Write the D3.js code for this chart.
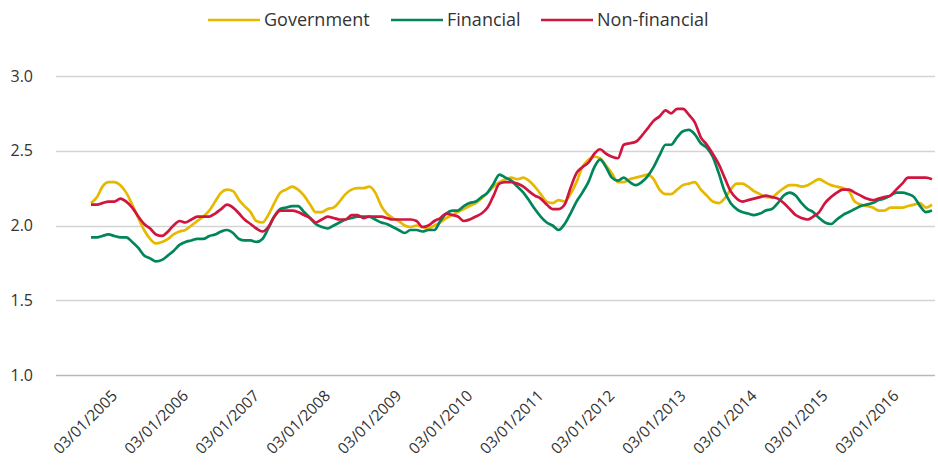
<!DOCTYPE html>
<html lang="en">
  <head>
    <meta charset="UTF-8" />
    <title>Spread chart</title>
    <script src="https://d3js.org/d3.v7.min.js"></script>
    <style>
      body {
        margin: 0;
        background: #fff;
        font-family: "Open Sans", sans-serif;
      }
    </style>
  </head>
  <body>
    <svg id="chart" width="938" height="465"></svg>
    <script>
      // monthly observations, Jan 2005 .. Nov 2016
      const months = d3.timeMonth.range(new Date(2005, 0, 1), new Date(2016, 11, 1));

      const government = [
        2.15, 2.19, 2.26, 2.29, 2.29, 2.27, 2.22, 2.14, 2.05, 1.97, 1.91, 1.88,
        1.89, 1.91, 1.94, 1.96, 1.97, 2.0, 2.03, 2.06, 2.1, 2.16, 2.22, 2.24,
        2.23, 2.17, 2.13, 2.09, 2.03, 2.02, 2.07, 2.15, 2.22, 2.24, 2.26, 2.24,
        2.2, 2.14, 2.09, 2.09, 2.11, 2.12, 2.16, 2.21, 2.24, 2.25, 2.25, 2.26,
        2.22, 2.13, 2.08, 2.05, 2.03, 2.0, 1.99, 2.0, 1.99, 1.98, 2.0, 2.02,
        2.05, 2.07, 2.09, 2.11, 2.13, 2.15, 2.18, 2.22, 2.26, 2.29, 2.31, 2.32,
        2.31, 2.32, 2.3, 2.26, 2.21, 2.16, 2.15, 2.17, 2.16, 2.21, 2.29, 2.39,
        2.44, 2.46, 2.45, 2.4, 2.35, 2.29, 2.29, 2.31, 2.32, 2.33, 2.34, 2.31,
        2.24, 2.21, 2.21, 2.24, 2.27, 2.28, 2.29, 2.24, 2.2, 2.16, 2.15, 2.18,
        2.24, 2.28, 2.28, 2.26, 2.23, 2.21, 2.19, 2.19, 2.22, 2.25, 2.27, 2.27,
        2.26, 2.27, 2.29, 2.31, 2.29, 2.27, 2.26, 2.25, 2.23, 2.16, 2.14, 2.13,
        2.12, 2.1, 2.1, 2.12, 2.12, 2.12, 2.13, 2.14, 2.15, 2.12, 2.14
      ];

      const financial = [
        1.92, 1.92, 1.93, 1.94, 1.93, 1.92, 1.92, 1.89, 1.85, 1.8, 1.78, 1.76,
        1.77, 1.8, 1.83, 1.87, 1.89, 1.9, 1.91, 1.91, 1.93, 1.94, 1.96, 1.97,
        1.95, 1.91, 1.9, 1.9, 1.89, 1.91, 1.98, 2.06, 2.11, 2.12, 2.13, 2.13,
        2.09, 2.05, 2.01, 1.99, 1.98, 2.0, 2.02, 2.04, 2.05, 2.06, 2.06, 2.06,
        2.04, 2.02, 2.01, 1.99, 1.97, 1.95, 1.97, 1.97, 1.96, 1.97, 1.97, 2.03,
        2.08, 2.1, 2.1, 2.13, 2.15, 2.16, 2.19, 2.22, 2.28, 2.34, 2.32, 2.3,
        2.26, 2.22, 2.17, 2.11, 2.06, 2.02, 2.0, 1.97, 2.01, 2.08, 2.16, 2.22,
        2.29, 2.39, 2.44, 2.39, 2.32, 2.3, 2.32, 2.29, 2.27, 2.29, 2.33, 2.39,
        2.47, 2.54, 2.54, 2.59, 2.63, 2.64, 2.61, 2.55, 2.52, 2.46, 2.35, 2.23,
        2.15, 2.11, 2.09, 2.08, 2.07, 2.08, 2.1, 2.11, 2.15, 2.2, 2.22, 2.2,
        2.15, 2.11, 2.09, 2.05, 2.02, 2.01, 2.04, 2.07, 2.09, 2.11, 2.13, 2.14,
        2.15, 2.17, 2.18, 2.2, 2.22, 2.22, 2.21, 2.19, 2.13, 2.09, 2.1
      ];

      const nonFinancial = [
        2.14, 2.14, 2.15, 2.16, 2.16, 2.18, 2.16, 2.12, 2.06, 2.01, 1.98, 1.94,
        1.93, 1.96, 2.0, 2.03, 2.02, 2.04, 2.06, 2.06, 2.06, 2.08, 2.11, 2.14,
        2.12, 2.08, 2.04, 2.01, 1.98, 1.96, 1.99, 2.06, 2.1, 2.1, 2.1, 2.09,
        2.07, 2.05, 2.02, 2.04, 2.06, 2.05, 2.04, 2.04, 2.07, 2.07, 2.05, 2.06,
        2.06, 2.06, 2.05, 2.04, 2.04, 2.04, 2.04, 2.03, 1.99, 2.0, 2.03, 2.05,
        2.08, 2.07, 2.06, 2.03, 2.04, 2.06, 2.08, 2.12, 2.2, 2.28, 2.29, 2.29,
        2.28, 2.26, 2.23, 2.2, 2.18, 2.14, 2.11, 2.11, 2.14, 2.25, 2.35, 2.39,
        2.42, 2.48, 2.51, 2.48, 2.46, 2.45, 2.54, 2.55, 2.56, 2.6, 2.65, 2.7,
        2.73, 2.77, 2.75, 2.78, 2.78, 2.74, 2.69, 2.59, 2.54, 2.48, 2.41, 2.32,
        2.23, 2.18, 2.16, 2.17, 2.18, 2.19, 2.2, 2.19, 2.18, 2.15, 2.11, 2.07,
        2.05, 2.04, 2.06, 2.09, 2.15, 2.19, 2.22, 2.24, 2.24, 2.22, 2.2, 2.18,
        2.17, 2.18, 2.19, 2.2, 2.24, 2.28, 2.32, 2.32, 2.32, 2.32, 2.31
      ];

      const seriesNames = ["Government", "Financial", "Non-financial"];
      const seriesColors = ["#e6b800", "#00865a", "#d0153f"];
      const yTicks = [1.0, 1.5, 2.0, 2.5, 3.0];
      const tickYears = d3.range(2005, 2017);
      const tickLabels = tickYears.map((y) => "03/01/" + y);

      const series = [government, financial, nonFinancial].map((vals, k) => ({
        name: seriesNames[k],
        color: seriesColors[k],
        values: vals.map((v, i) => ({ date: months[i], value: v })),
      }));

      const svg = d3.select("#chart");

      const x = d3
        .scaleTime()
        .domain([months[0], months[months.length - 1]])
        .range([91, 932]);

      const y = d3.scaleLinear().domain([1, 3]).range([375, 76]);

      // gridlines + y labels
      const yAxis = svg.append("g");
      yAxis
        .selectAll("line")
        .data(yTicks)
        .join("line")
        .attr("x1", 56)
        .attr("x2", 935)
        .attr("y1", (d) => Math.round(y(d)) + 0.5)
        .attr("y2", (d) => Math.round(y(d)) + 0.5)
        .attr("stroke", (d) => (d === 1 ? "#b8b8b8" : "#d4d4d4"))
        .attr("stroke-width", 1.3);

      yAxis
        .selectAll("text")
        .data(yTicks)
        .join("text")
        .attr("x", 33)
        .attr("y", (d) => y(d))
        .attr("dy", "0.35em")
        .attr("text-anchor", "end")
        .attr("font-size", 16)
        .attr("fill", "#333")
        .text((d) => d.toFixed(1));

      // x labels, rotated
      svg
        .append("g")
        .selectAll("text")
        .data(tickYears)
        .join("text")
        .attr("transform", (d) => `translate(${x(new Date(d, 0, 3)) + 23},393) rotate(-45)`)
        .attr("dy", "0.35em")
        .attr("text-anchor", "end")
        .attr("font-size", 15.5)
        .attr("fill", "#333")
        .text((d, i) => tickLabels[i]);

      // lines
      const line = d3
        .line()
        .x((d) => x(d.date))
        .y((d) => y(d.value))
        .curve(d3.curveMonotoneX);

      svg
        .append("g")
        .selectAll("path")
        .data(series)
        .join("path")
        .attr("fill", "none")
        .attr("stroke", (d) => d.color)
        .attr("stroke-width", 2.7)
        .attr("stroke-linejoin", "round")
        .attr("d", (d) => line(d.values));

      // legend
      const legendX = [208, 391, 541];
      const legend = svg
        .append("g")
        .selectAll("g")
        .data(series)
        .join("g")
        .attr("transform", (d, i) => `translate(${legendX[i]},20)`);

      legend
        .append("line")
        .attr("x1", 0)
        .attr("x2", 52)
        .attr("stroke", (d) => d.color)
        .attr("stroke-width", 2.6);

      legend
        .append("text")
        .attr("x", 56)
        .attr("dy", "0.35em")
        .attr("font-size", 18)
        .attr("fill", "#333")
        .text((d) => d.name);
    </script>
  </body>
</html>
